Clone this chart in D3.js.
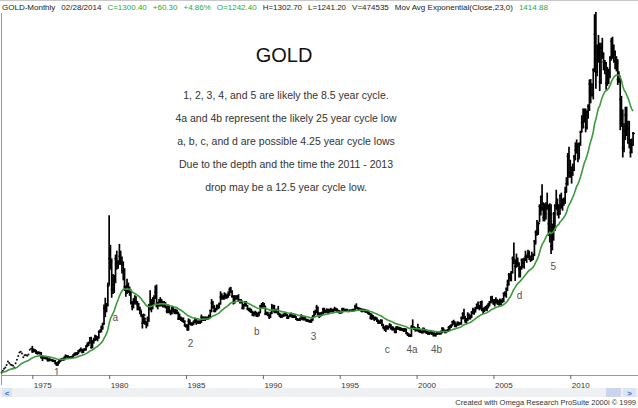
<!DOCTYPE html>
<html>
<head>
<meta charset="utf-8">
<script src="https://cdn.jsdelivr.net/npm/d3@7"></script>
<style>
  body { margin: 0; background: #fff; }
  svg { display: block; font-family: "Liberation Sans", Arial, sans-serif; }
</style>
</head>
<body>
<div id="chart"></div>
<script>
// GOLD monthly bars, 1973 - Feb 2014, with 23 period exponential moving average

var width = 638, height = 408

// 1973-1974, only sparse closes (drawn as dots)
var earlyCloses = [65,74,84,91,103,122,114,106,103,100,91,112,
                   130,150,168,172,163,143,154,155,151,158,182,187]

// monthly closes from Jan 1975 (one row per year)
var closes = [
  176,181,178,167,167,166,167,144,142,143,139,140,
  128,132,129,128,125,124,113,104,116,123,130,135,
  132,142,149,148,143,143,145,145,154,162,160,165,
  175,182,181,170,184,183,200,208,218,242,194,226,
  233,251,240,245,275,277,296,315,397,382,415,512,
  653,637,494,518,535,653,614,631,666,629,619,590,
  507,489,514,482,479,426,406,425,428,427,414,400,
  387,362,320,361,326,315,342,411,397,423,436,448,
  481,408,414,429,437,416,422,414,405,382,405,382,
  370,394,388,375,385,373,342,348,341,333,329,309,
  306,288,329,321,315,317,327,333,323,325,324,327,
  350,338,344,346,343,345,357,385,424,401,383,391,
  405,406,420,454,452,448,462,453,460,468,492,484,
  458,426,457,449,455,436,437,431,397,412,420,410,
  394,387,383,377,362,373,368,359,366,375,408,401,
  415,407,368,368,363,352,372,387,408,380,384,386,
  366,363,355,357,360,368,362,347,354,358,366,353,
  354,353,341,336,337,343,357,340,349,339,334,333,
  330,327,337,354,378,378,401,371,355,370,371,391,
  378,381,389,376,387,388,384,385,394,389,383,383,
  375,376,392,389,385,387,383,382,384,383,387,387,
  405,400,396,392,391,382,385,387,379,379,371,369,
  345,358,348,340,345,334,326,324,332,311,296,290,
  304,297,301,310,293,296,288,273,293,292,294,288,
  287,287,280,286,268,262,256,255,299,299,292,290,
  283,293,278,274,272,289,277,277,273,264,270,272,
  265,267,258,264,267,271,265,273,293,279,275,277,
  282,297,302,308,326,318,304,312,323,316,317,347,
  368,347,334,337,361,346,354,375,388,386,398,416,
  400,397,427,387,394,395,391,408,416,429,453,438,
  422,435,428,435,417,437,429,433,473,470,495,517,
  569,556,582,654,643,613,633,624,599,604,646,632,
  650,665,663,679,659,650,666,673,743,789,783,834,
  923,971,917,865,886,926,913,833,880,718,814,884,
  927,942,916,884,979,926,955,955,996,1040,1182,1097,
  1081,1116,1113,1180,1213,1244,1169,1246,1307,1357,1386,1421,
  1333,1411,1439,1556,1536,1500,1628,1813,1620,1722,1746,1566,
  1740,1710,1669,1664,1561,1604,1614,1692,1776,1720,1712,1676,
  1664,1579,1596,1476,1393,1224,1313,1396,1327,1323,1250,1202,
  1240,1300]

var highs = [
  198,185,182,177,170,170,168,166,147,146,143,141,
  140,134,133,129,129,127,124,114,117,125,132,136,
  137,143,154,150,149,144,146,147,155,164,165,166,
  176,183,190,180,185,186,201,216,220,244,245,228,
  240,256,252,248,278,284,304,318,412,447,420,525,
  873,720,650,570,565,670,690,640,725,690,660,635,
  600,510,545,525,505,490,430,445,460,455,430,420,
  400,380,360,365,345,325,350,415,485,440,450,460,
  510,515,425,440,450,440,430,430,425,405,410,405,
  385,405,400,390,390,385,375,365,350,345,345,330,
  310,310,340,335,320,320,330,345,340,330,330,330,
  360,350,350,350,350,350,360,385,440,430,410,395,
  412,412,422,480,470,460,475,470,465,480,500,503,
  485,460,460,460,460,465,440,440,432,415,430,430,
  410,395,395,390,380,375,380,375,370,375,410,420,
  425,420,405,375,375,360,375,415,410,410,390,390,
  405,370,365,360,365,370,370,362,355,362,370,366,
  360,360,350,342,340,345,362,355,350,350,338,338,
  333,333,340,357,380,385,410,400,370,372,375,395,
  395,385,392,390,390,395,390,390,400,395,392,385,
  380,380,395,395,390,390,390,385,387,386,390,390,
  410,418,400,396,395,392,390,390,388,385,385,372,
  368,365,358,350,350,345,335,330,336,335,312,300,
  305,303,302,315,310,300,298,290,300,300,298,296,
  293,290,290,290,288,268,263,260,305,335,300,295,
  292,313,295,285,278,293,292,280,277,272,272,276,
  273,268,268,265,272,274,271,277,294,292,283,280,
  285,300,305,310,328,333,325,315,325,320,322,350,
  372,390,353,342,372,365,360,378,395,390,400,417,
  428,410,430,432,395,400,405,410,420,430,455,457,
  440,440,450,440,432,443,438,445,475,480,500,540,
  575,575,585,660,732,645,675,655,630,610,650,650,
  655,690,670,695,690,665,685,675,745,795,848,840,
  930,975,1033,940,935,940,990,930,935,930,830,890,
  930,1005,960,930,980,990,960,965,1020,1070,1195,1227,
  1160,1125,1140,1185,1250,1265,1245,1250,1310,1390,1425,1425,
  1425,1415,1447,1575,1577,1555,1633,1912,1923,1755,1805,1765,
  1765,1790,1715,1675,1665,1640,1630,1695,1790,1796,1755,1725,
  1695,1680,1617,1590,1490,1420,1348,1434,1434,1362,1361,1267,
  1270,1303]

var lows = [
  170,172,174,164,161,163,162,140,128,139,137,135,
  125,125,128,126,123,122,110,103,104,114,122,129,
  129,131,141,146,142,139,140,144,145,153,157,158,
  163,173,179,168,170,180,182,199,205,218,192,194,
  218,232,235,230,244,274,276,290,315,355,380,410,
  520,600,455,475,480,530,600,605,625,625,580,545,
  490,460,475,480,465,420,390,400,420,420,390,390,
  370,355,296,320,315,297,307,330,390,380,395,420,
  450,405,395,410,410,410,405,405,400,375,375,375,
  365,370,380,370,370,370,340,340,335,330,325,305,
  300,284,285,315,310,310,315,325,315,320,320,320,
  325,335,335,335,340,340,345,350,380,400,380,380,
  390,395,400,420,445,445,445,450,450,455,465,480,
  455,420,425,445,445,435,425,425,395,395,410,410,
  390,385,380,375,360,358,365,356,355,360,375,400,
  400,405,365,365,360,345,350,370,385,375,375,375,
  365,355,350,350,355,358,360,345,345,355,355,350,
  350,350,340,335,335,335,343,338,338,338,330,330,
  327,326,326,336,354,365,375,360,350,355,365,370,
  375,375,378,370,375,380,380,375,385,385,380,375,
  372,372,375,387,382,384,382,380,382,381,382,385,
  387,398,393,390,389,380,380,384,378,377,370,366,
  343,340,345,335,340,330,320,320,320,308,295,283,
  278,290,290,300,290,285,285,272,272,289,288,284,
  284,283,278,278,267,257,253,252,253,295,288,280,
  281,281,276,273,270,270,275,270,268,264,263,267,
  262,255,255,254,263,265,264,265,271,277,271,272,
  277,280,288,299,307,315,302,302,310,311,315,317,
  343,344,325,320,335,342,342,350,370,367,378,395,
  397,390,395,385,371,381,388,385,400,410,425,430,
  418,410,425,420,415,414,418,427,432,462,455,490,
  520,540,540,580,630,542,610,615,560,560,600,610,
  605,645,635,660,650,640,645,650,670,730,775,780,
  845,880,905,850,850,860,910,775,740,681,700,750,
  800,910,880,865,885,915,905,930,940,1000,1035,1075,
  1075,1045,1085,1110,1165,1200,1155,1175,1240,1310,1330,1360,
  1310,1325,1380,1420,1460,1495,1480,1620,1535,1600,1670,1523,
  1560,1690,1630,1610,1530,1550,1560,1590,1680,1690,1670,1636,
  1625,1555,1565,1321,1338,1180,1207,1270,1291,1251,1227,1180,
  1202,1241]

// cycle labels: text, year, price
var cycleText = ["1","a","2","b","3","c","4a","4b","d","5"]
var cycleYear = [1976.6,1980.4,1985.3,1989.6,1993.3,1998.1,1999.7,2001.3,2006.7,2008.9]
var cyclePrice = [67,351,212,279,253,186,186,186,460,610]

var notes = ["1, 2, 3, 4, and 5 are likely the 8.5 year cycle.",
             "4a and 4b represent the likely 25 year cycle low",
             "a, b, c, and d are possible 4.25 year cycle lows",
             "Due to the depth and the time the 2011 - 2013",
             "drop may be a 12.5 year cycle low."]

// header pieces: text, colour
var headerText = ["GOLD-Monthly","02/28/2014","C=1300.40","+60.30","+4.86%","O=1242.40",
                  "H=1302.70","L=1241.20","V=474535","Mov Avg Exponential(Close,23,0)","1414.88"]
var headerGreen = [0,0,1,1,1,1,0,0,0,0,1]

var green = "#3c9a3c"

var svg = d3.select("#chart")
    .append("svg")
    .attr("width", width)
    .attr("height", height)

// scales
var x = d3.scaleTime()
    .domain([new Date(1975,0,1), new Date(2010,0,1)])
    .range([32.3, 570.3])
var y = d3.scaleLinear()
    .domain([0, 2000])
    .range([385, -2])
var yearToDate = function(t) {
    var yr = Math.floor(t)
    return new Date(yr, 0, 1 + Math.round((t - yr) * 365))
}

// build the bars
var bars = closes.map(function(c, i) {
    return {date: new Date(1975, i, 1), close: c, high: highs[i], low: lows[i]}
})
var early = earlyCloses.map(function(c, i) {
    return {date: new Date(1973, i, 1), close: c}
})

// EMA(23) of the closes
var allCloses = early.concat(bars)
var alpha = 2 / (23 + 1)
var ema = []
allCloses.forEach(function(d, i) {
    var v = i == 0 ? d.close : ema[i-1].v + alpha * (d.close - ema[i-1].v)
    ema.push({date: d.date, v: v})
})

// frame lines
svg.append("line")
    .attr("x1", 0).attr("x2", width)
    .attr("y1", 0.5).attr("y2", 0.5)
    .style("stroke", "#c8c8c8")
svg.append("line")
    .attr("x1", 1.5).attr("x2", 1.5)
    .attr("y1", 13).attr("y2", 385)
    .style("stroke", "#9a9a9a")

// header
var header = svg.append("text")
    .attr("x", 2)
    .attr("y", 10)
    .style("font-size", "8px")
header.selectAll("tspan")
    .data(headerText)
    .join("tspan")
    .attr("dx", function(d, i) { return i == 0 ? 0 : 6 })
    .style("fill", function(d, i) { return headerGreen[i] ? "#2fa82f" : "#222" })
    .text(function(d) { return d })

// title and notes
svg.append("text")
    .attr("x", 284)
    .attr("y", 62)
    .attr("text-anchor", "middle")
    .style("font-size", "20px")
    .style("fill", "#111")
    .text("GOLD")
svg.append("g").selectAll("text")
    .data(notes)
    .join("text")
    .attr("x", 286)
    .attr("y", function(d, i) { return 99 + i * 23 })
    .attr("text-anchor", "middle")
    .style("font-size", "10.5px")
    .style("fill", "#333")
    .text(function(d) { return d })

// early dotted data
svg.append("g").selectAll("circle")
    .data(early)
    .join("circle")
    .attr("cx", function(d) { return x(d.date) })
    .attr("cy", function(d) { return y(d.close) })
    .attr("r", 1)
    .style("fill", "#111")

// monthly bars
var barG = svg.append("g")
barG.selectAll("line.bar")
    .data(bars)
    .join("line")
    .attr("class", "bar")
    .attr("x1", function(d) { return x(d.date) })
    .attr("x2", function(d) { return x(d.date) })
    .attr("y1", function(d) { return y(d.high) - 0.8 })
    .attr("y2", function(d) { return y(d.low) + 0.8 })
    .style("stroke", "#000")
    .style("stroke-width", 1.7)
barG.selectAll("line.tick")
    .data(bars)
    .join("line")
    .attr("class", "tick")
    .attr("x1", function(d) { return x(d.date) - 1 })
    .attr("x2", function(d) { return x(d.date) + 1.8 })
    .attr("y1", function(d) { return y(d.close) })
    .attr("y2", function(d) { return y(d.close) })
    .style("stroke", "#000")
    .style("stroke-width", 1.4)

// moving average
svg.append("path")
    .datum(ema)
    .attr("d", d3.line()
        .x(function(d) { return x(d.date) })
        .y(function(d) { return y(d.v) }))
    .style("fill", "none")
    .style("stroke", green)
    .style("stroke-width", 1.6)

// cycle labels
svg.append("g").selectAll("text")
    .data(cycleText)
    .join("text")
    .attr("x", function(d, i) { return x(yearToDate(cycleYear[i])) })
    .attr("y", function(d, i) { return y(cyclePrice[i]) + 3.5 })
    .attr("text-anchor", "middle")
    .style("font-size", "10px")
    .style("fill", "#555")
    .text(function(d) { return d })

// x axis
svg.append("line")
    .attr("x1", 2).attr("x2", width)
    .attr("y1", 375.5).attr("y2", 375.5)
    .style("stroke", "#e27a7a")
var xAxis = svg.append("g")
    .attr("transform", "translate(0,375)")
    .call(d3.axisBottom(x)
        .ticks(d3.timeYear.every(5))
        .tickFormat(d3.timeFormat("%Y"))
        .tickSize(4))
xAxis.select(".domain").remove()
xAxis.selectAll("line").style("stroke", "#666")
xAxis.selectAll("text")
    .attr("text-anchor", "start")
    .attr("x", 1)
    .style("font-size", "8px")
    .style("font-family", "Liberation Sans, Arial, sans-serif")
    .style("fill", "#333")

// scrollbar
svg.append("rect")
    .attr("x", 0).attr("y", 388)
    .attr("width", width).attr("height", 9)
    .style("fill", "#eef0f2")
svg.append("rect")
    .attr("x", 2).attr("y", 388)
    .attr("width", 10).attr("height", 9)
    .style("fill", "#dbe4f3")
svg.append("text")
    .attr("x", 7).attr("y", 395.5)
    .attr("text-anchor", "middle")
    .style("font-size", "8px")
    .style("font-weight", "bold")
    .style("fill", "#4a6fb5")
    .text("<")
svg.append("rect")
    .attr("x", 606).attr("y", 388)
    .attr("width", 15).attr("height", 9)
    .style("fill", "#c9d5ec")
svg.append("rect")
    .attr("x", 623).attr("y", 388)
    .attr("width", 13).attr("height", 9)
    .style("fill", "#dbe4f3")
svg.append("text")
    .attr("x", 629.5).attr("y", 395.5)
    .attr("text-anchor", "middle")
    .style("font-size", "8px")
    .style("font-weight", "bold")
    .style("fill", "#4a6fb5")
    .text(">")

// footer
svg.append("text")
    .attr("x", 636)
    .attr("y", 405)
    .attr("text-anchor", "end")
    .style("font-size", "7.5px")
    .style("fill", "#333")
    .text("Created with Omega Research ProSuite 2000i \u00a9 1999")
</script>
</body>
</html>
